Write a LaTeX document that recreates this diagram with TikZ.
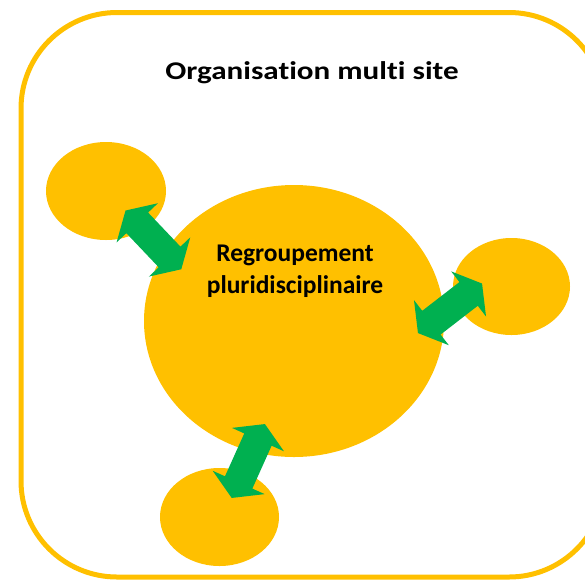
\documentclass[tikz,border=0pt]{standalone}
\usepackage{fontspec}
\setmainfont{Carlito}[Ligatures=NoCommon]
\newfontfamily\titlefont{Carlito}[Ligatures=NoCommon, FakeStretch=1.22]
\usetikzlibrary{shapes.geometric, positioning}
\definecolor{siteorange}{HTML}{FFC000}
\definecolor{linkgreen}{HTML}{00B050}
\tikzset{
    site/.style = {ellipse, fill=siteorange, inner sep=0pt}, % one site of the organisation
    frame/.style = {draw=siteorange, line width=5pt, rounded corners=96pt},
    % green two-way block arrow, 81pt long, pointing along its local x axis
    pics/link/.style = {code = {
        \fill[linkgreen] (-40.5pt,0pt) -- (-23.5pt,28.5pt) -- (-23.5pt,15pt) -- (23.5pt,15pt) -- (23.5pt,28.5pt)
            -- (40.5pt,0pt) -- (23.5pt,-28.5pt) -- (23.5pt,-15pt) -- (-23.5pt,-15pt) -- (-23.5pt,-28.5pt) -- cycle;
    }}
}
\begin{document}
\begin{tikzpicture}[x=1pt, y=-1pt]
    \useasboundingbox (0,0) rectangle (585,579);
    \draw[frame] (21,12.5) rectangle (605,577);
    \node[font=\titlefont\bfseries\fontsize{25.5}{30}\selectfont, anchor=base] (title) at (312,79.5) {Organisation multi site};

    % sites
    \node[site, minimum width=300pt, minimum height=272pt] (hub) at (294,321) {};
    \node[site, minimum width=120pt, minimum height=98pt] (siteA) at (106,191) {};
    \node[site, minimum width=117pt, minimum height=97pt] (siteB) at (511.5,286.5) {};
    \node[site, minimum width=119pt, minimum height=98pt] (siteC) at (219.5,517) {};
    \node[align=center, font=\bfseries\fontsize{25.5}{32}\selectfont, anchor=base] (hubtext) at (295,293) {Regroupement\\pluridisciplinaire};

    % links between the hub and the sites
    \pic[rotate=-46.5] (linkA) at (153.4,239.9) {link};
    \pic[rotate=37.7] (linkB) at (450,308.3) {link};
    \pic[rotate=65.8] (linkC) at (248.3,461) {link};
\end{tikzpicture}
\end{document}
